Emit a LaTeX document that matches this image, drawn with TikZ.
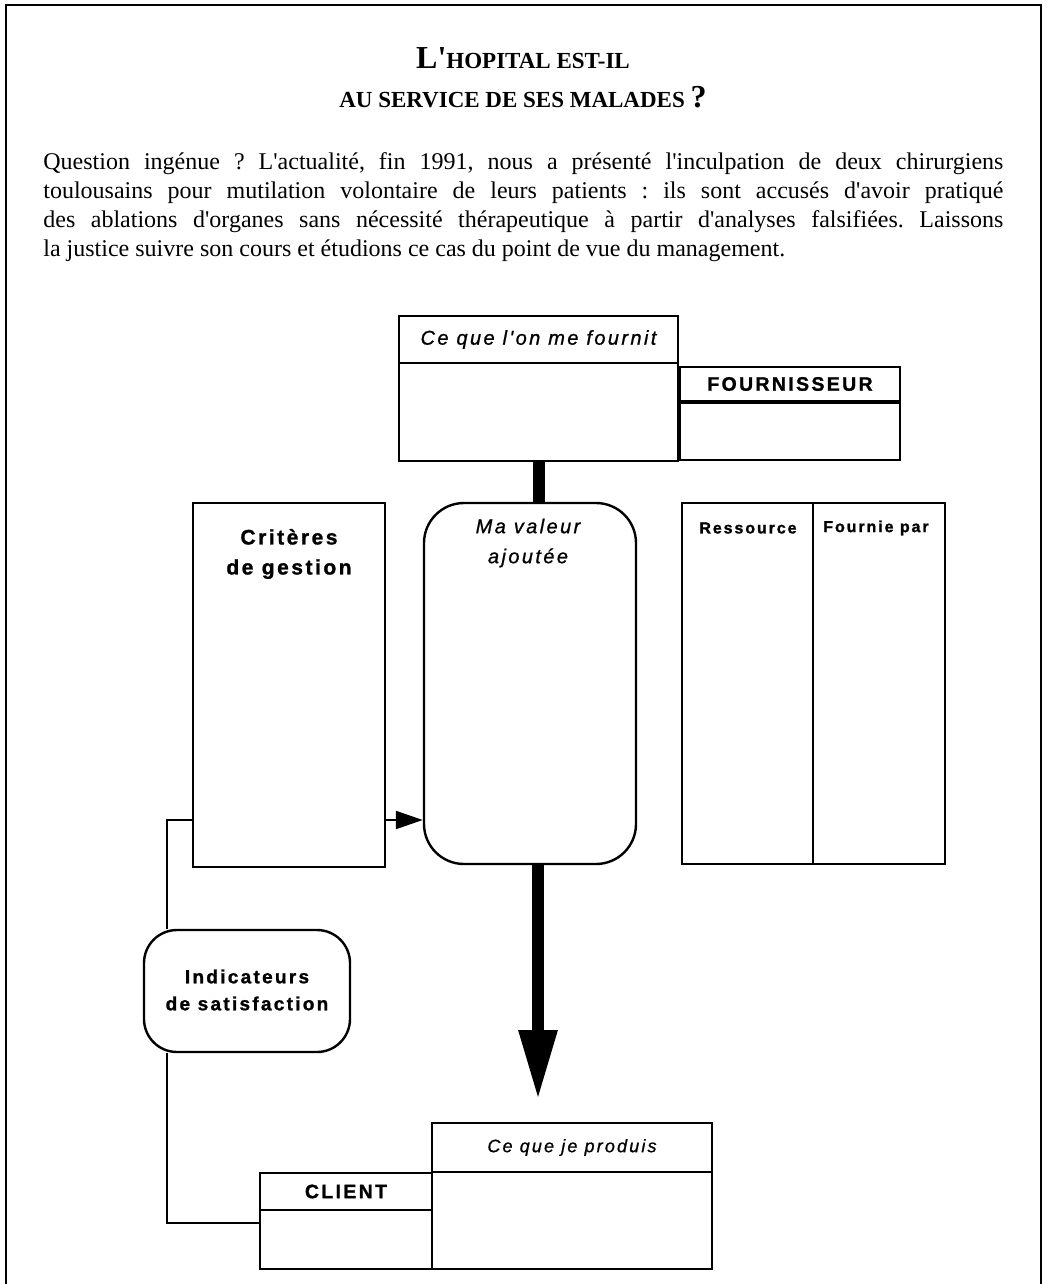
\documentclass[tikz,border=0pt]{standalone}
\usepackage{fontspec}
\setmainfont{Liberation Serif}[Ligatures=TeXOff]
\newfontfamily\dg{Liberation Sans}[LetterSpace=12.0, Ligatures=TeXOff,
  BoldFeatures={FakeBold=1.2}, ItalicFeatures={FakeBold=0.9}]
\usetikzlibrary{arrows.meta, fit}

\tikzset{
  frame/.style={line width=1pt},
  cell/.style={draw, line width=1.2pt, inner sep=0pt},
  rcell/.style={cell, rounded corners=#1},
  link/.style={line width=1.1pt},
  flow/.style={line width=6pt},
  bt/.style={inner sep=0pt, align=center, font=\dg\bfseries\fontsize{#1}{15}\selectfont},
  it/.style={inner sep=0pt, align=center, font=\dg\itshape\fontsize{#1}{15}\selectfont},
}

\begin{document}
\frenchspacing
\begin{tikzpicture}[x=0.5pt, y=-0.5pt]
\useasboundingbox (0,0) rectangle (1046,1284);

% page frame, open at the bottom
\draw[frame] (6,1284) -- (6,5) -- (1041,5) -- (1041,1284);

% title
\node[anchor=base, inner sep=0pt, font=\bfseries] (title1) at (523,69)
  {\fontsize{16}{16}\selectfont L'\fontsize{11.5}{11.5}\selectfont HOPITAL EST-IL};
\node[anchor=base, inner sep=0pt, font=\bfseries] (title2) at (523,107)
  {\fontsize{11.5}{11.5}\selectfont AU SERVICE DE SES MALADES \fontsize{16}{16}\selectfont ?};

% introductory paragraph
\node[anchor=north west, inner sep=0pt, align=left, font=\fontsize{12}{14.5}\selectfont] (intro) at (43,152)
  {\makebox[480pt][s]{Question ingénue ? L'actualité, fin 1991, nous a présenté l'inculpation de deux chirurgiens}\\
   \makebox[480pt][s]{toulousains pour mutilation volontaire de leurs patients : ils sont accusés d'avoir pratiqué}\\
   \makebox[480pt][s]{des ablations d'organes sans nécessité thérapeutique à partir d'analyses falsifiées. Laissons}\\
   la justice suivre son cours et étudions ce cas du point de vue du management.};

% supplier side
\node[cell, fit={(399,316) (678,363)}] (inhead) {};
\node[cell, fit={(399,363) (678,461)}] (inbody) {};
\node[it=10] (intxt) at (inhead.center) {Ce que l'on me fournit};
\node[cell, fit={(680,367) (900,401)}] (suphead) {};
\node[cell, fit={(680,403) (900,460)}] (supbody) {};
\node[bt=9.75] (suptxt) at (suphead.center) {FOURNISSEUR};

% middle row
\node[cell, fit={(193,503) (385,867)}] (crit) {};
\node[bt=10.5] (crittxt) at (289,554) {Critères\\de gestion};
\node[rcell=20pt, fit={(424,503) (636,864)}] (valeur) {};
\node[it=10] (valtxt) at (528,543) {Ma valeur\\ajoutée};
\node[cell, fit={(682,503) (813,864)}] (rescol) {};
\node[cell, fit={(813,503) (945,864)}] (bycol) {};
\node[bt=8] (restxt) at (748,528) {Ressource};
\node[bt=8] (bytxt) at (876,528) {Fournie par};

% satisfaction loop
\node[rcell=16.5pt, fit={(144,930) (350,1052)}] (indic) {};
\node[inner sep=0pt, align=center, font=\dg\bfseries\fontsize{9.5}{13.5}\selectfont] (indtxt) at (247,990) {Indicateurs\\de satisfaction};

% customer side
\node[cell, fit={(432,1123) (712,1172)}] (outhead) {};
\node[cell, fit={(432,1172) (712,1269)}] (outbody) {};
\node[it=9] (outtxt) at (outhead.center) {Ce que je produis};
\node[cell, fit={(260,1173) (432,1210)}] (clihead) {};
\node[cell, fit={(260,1210) (432,1269)}] (clibody) {};
\node[bt=9.75] (clitxt) at (clihead.center) {CLIENT};

% connectors
\coordinate (fb) at (0,820);
\coordinate (lx) at (167,0);
\coordinate (cy) at (0,1223);
\coordinate (tip) at (538,1100);

\draw[flow] (inbody.south) -- (inbody.south |- valeur.north);
\draw[link, -{Triangle[length=13.5pt, width=9pt]}] (crit.east |- fb) -- (valeur.west |- fb);
\draw[link] (crit.west |- fb) -| (lx |- indic.north);
\draw[link] (lx |- indic.south) |- (clibody.west |- cy);
\draw[flow, -{Triangle[length=35pt, width=18pt]}] (tip |- valeur.south) -- (tip);
\end{tikzpicture}
\end{document}
